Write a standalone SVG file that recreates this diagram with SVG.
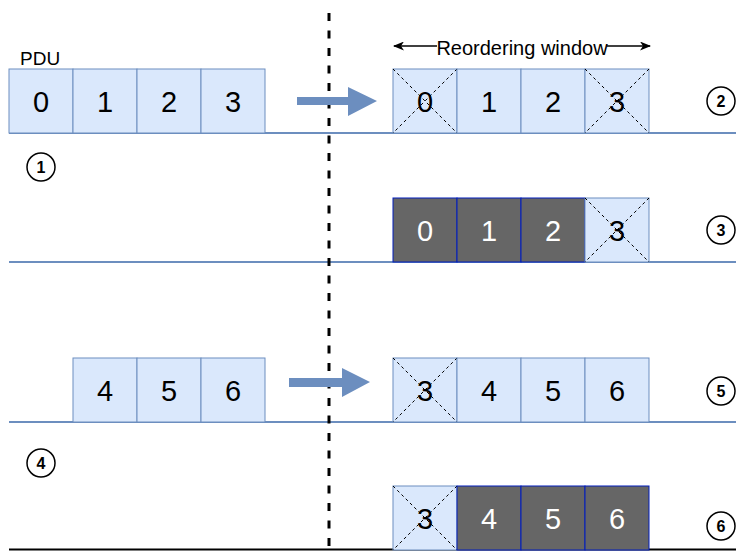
<svg xmlns="http://www.w3.org/2000/svg" width="736" height="551" viewBox="0 0 736 551">
<defs>
<style>
.b{fill:#dae8fc;stroke:#6c8ebf;stroke-width:1}
.d{fill:#666666;stroke:#001dbc;stroke-width:1}
.t{font-family:"Liberation Sans",Arial,sans-serif;font-size:29px;text-anchor:middle;fill:#000}
.tw{font-family:"Liberation Sans",Arial,sans-serif;font-size:29px;text-anchor:middle;fill:#fff}
.x{stroke:#000;stroke-width:1;stroke-dasharray:3 3;fill:none}
.base{stroke:#6c8ebf;stroke-width:2;fill:none}
.c{fill:#fff;stroke:#000;stroke-width:1.5}
.ct{font-family:"Liberation Sans",Arial,sans-serif;font-size:16px;font-weight:bold;text-anchor:middle;fill:#000}
.lbl{font-family:"Liberation Sans",Arial,sans-serif;font-size:19px;fill:#000}
.arr{fill:#6c8ebf;stroke:none}
</style>
<marker id="ah" markerWidth="11" markerHeight="9" refX="10" refY="4.5" orient="auto" markerUnits="userSpaceOnUse"><path d="M0,0 L11,4.5 L0,9 L3,4.5 Z" fill="#000"/></marker>
</defs>
<rect width="736" height="551" fill="#fff"/>
<g id="connectors">
<line class="base" x1="9" y1="133" x2="736" y2="133"/>
<line class="base" x1="9" y1="262" x2="736" y2="262"/>
<line class="base" x1="9" y1="422" x2="736" y2="422"/>
<line x1="9" y1="549.5" x2="736" y2="549.5" stroke="#000" stroke-width="2"/>
<line x1="329" y1="13" x2="329" y2="551" stroke="#000" stroke-width="3" stroke-dasharray="8 9.5"/>
<path class="arr" d="M297,97 L348,97 L348,87 L377,101 L348,116 L348,105 L297,105 Z"/>
<path class="arr" d="M289,378 L342,378 L342,368 L370,382 L342,397 L342,387 L289,387 Z"/>
<line x1="437" y1="46" x2="394" y2="46" stroke="#000" stroke-width="1.5" marker-end="url(#ah)"/>
<line x1="607" y1="46" x2="650" y2="46" stroke="#000" stroke-width="1.5" marker-end="url(#ah)"/>
</g>
<g id="label-pdu"><text class="lbl" x="20" y="65">PDU</text></g>
<g id="label-window"><text class="lbl" x="522" y="55" text-anchor="middle" style="font-size:20px">Reordering window</text></g>
<g id="row1-left">
<rect class="b" x="9" y="69" width="64" height="64"/><text class="t" x="41" y="112">0</text>
<rect class="b" x="73" y="69" width="64" height="64"/><text class="t" x="105" y="112">1</text>
<rect class="b" x="137" y="69" width="64" height="64"/><text class="t" x="169" y="112">2</text>
<rect class="b" x="201" y="69" width="64" height="64"/><text class="t" x="233" y="112">3</text>
</g>
<g id="row1-right">
<rect class="b" x="393" y="69" width="64" height="64"/><text class="t" x="425" y="112">0</text>
<path class="x" d="M393,69 L457,133 M457,69 L393,133"/>
<rect class="b" x="457" y="69" width="64" height="64"/><text class="t" x="489" y="112">1</text>
<rect class="b" x="521" y="69" width="64" height="64"/><text class="t" x="553" y="112">2</text>
<rect class="b" x="585" y="69" width="64" height="64"/><text class="t" x="617" y="112">3</text>
<path class="x" d="M585,69 L649,133 M649,69 L585,133"/>
</g>
<g id="row2-right">
<rect class="d" x="393" y="198" width="64" height="64"/><text class="tw" x="425" y="241">0</text>
<rect class="d" x="457" y="198" width="64" height="64"/><text class="tw" x="489" y="241">1</text>
<rect class="d" x="521" y="198" width="64" height="64"/><text class="tw" x="553" y="241">2</text>
<rect class="b" x="585" y="198" width="64" height="64"/><text class="t" x="617" y="241">3</text>
<path class="x" d="M585,198 L649,262 M649,198 L585,262"/>
</g>
<g id="row3-left">
<rect class="b" x="73" y="358" width="64" height="64"/><text class="t" x="105" y="401">4</text>
<rect class="b" x="137" y="358" width="64" height="64"/><text class="t" x="169" y="401">5</text>
<rect class="b" x="201" y="358" width="64" height="64"/><text class="t" x="233" y="401">6</text>
</g>
<g id="row3-right">
<rect class="b" x="393" y="358" width="64" height="64"/><text class="t" x="425" y="401">3</text>
<path class="x" d="M393,358 L457,422 M457,358 L393,422"/>
<rect class="b" x="457" y="358" width="64" height="64"/><text class="t" x="489" y="401">4</text>
<rect class="b" x="521" y="358" width="64" height="64"/><text class="t" x="553" y="401">5</text>
<rect class="b" x="585" y="358" width="64" height="64"/><text class="t" x="617" y="401">6</text>
</g>
<g id="row4-right">
<rect class="b" x="393" y="486" width="64" height="64"/><text class="t" x="425" y="529">3</text>
<path class="x" d="M393,486 L457,550 M457,486 L393,550"/>
<rect class="d" x="457" y="486" width="64" height="64"/><text class="tw" x="489" y="529">4</text>
<rect class="d" x="521" y="486" width="64" height="64"/><text class="tw" x="553" y="529">5</text>
<rect class="d" x="585" y="486" width="64" height="64"/><text class="tw" x="617" y="529">6</text>
</g>
<g id="step1"><circle class="c" cx="41" cy="167" r="14"/><text class="ct" x="41" y="173">1</text></g>
<g id="step2"><circle class="c" cx="721" cy="101" r="14"/><text class="ct" x="721" y="107">2</text></g>
<g id="step3"><circle class="c" cx="721" cy="230" r="14"/><text class="ct" x="721" y="236">3</text></g>
<g id="step4"><circle class="c" cx="41" cy="463" r="14"/><text class="ct" x="41" y="469">4</text></g>
<g id="step5"><circle class="c" cx="721" cy="391" r="14"/><text class="ct" x="721" y="397">5</text></g>
<g id="step6"><circle class="c" cx="721" cy="526" r="14"/><text class="ct" x="721" y="532">6</text></g>
</svg>
